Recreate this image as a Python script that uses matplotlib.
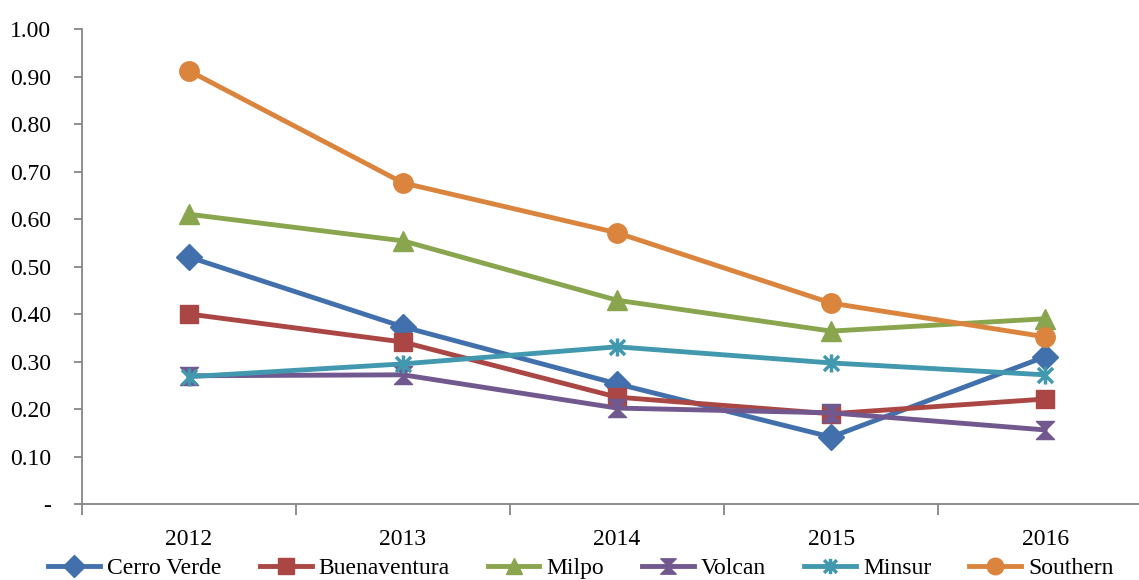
import numpy as np
import matplotlib
matplotlib.use("Agg")
import matplotlib.pyplot as plt
from matplotlib.path import Path

years = ["2012", "2013", "2014", "2015", "2016"]
cerro_verde = [0.52, 0.373, 0.253, 0.141, 0.31]
buenaventura = [0.40, 0.341, 0.225, 0.19, 0.221]
milpo = [0.61, 0.554, 0.429, 0.364, 0.39]
volcan = [0.27, 0.272, 0.202, 0.192, 0.156]
minsur = [0.268, 0.295, 0.331, 0.297, 0.272]
southern = [0.912, 0.676, 0.571, 0.423, 0.352]

plt.rcParams['font.family'] = ['Liberation Serif', 'DejaVu Serif']

# custom markers like the spreadsheet ones
hourglass = Path([(-1, 1), (1, 1), (0, 0), (1, -1), (-1, -1), (0, 0), (-1, 1)],
                 [Path.MOVETO, Path.LINETO, Path.LINETO, Path.LINETO,
                  Path.LINETO, Path.LINETO, Path.CLOSEPOLY])
star = Path([(-1, -1), (1, 1), (-1, 1), (1, -1), (0, -1.2), (0, 1.2)],
            [Path.MOVETO, Path.LINETO, Path.MOVETO, Path.LINETO,
             Path.MOVETO, Path.LINETO])

series = [
    ("Cerro Verde", cerro_verde, "#4170AC", "D", 13),
    ("Buenaventura", buenaventura, "#AA4643", "s", 13.5),
    ("Milpo", milpo, "#89A54E", "^", 14),
    ("Volcan", volcan, "#71588F", hourglass, 13),
    ("Minsur", minsur, "#4198AF", star, 13),
    ("Southern", southern, "#DB843D", "o", 14),
]

fig = plt.figure(figsize=(11.39, 5.8), dpi=100)
ax = fig.add_axes([0.072, 0.131, 0.9395, 0.819])

x = np.arange(len(years))
for name, vals, col, mk, ms in series:
    if mk is star:
        ax.plot(x, vals, color=col, lw=3.5, marker=mk, ms=ms,
                mfc="none", mec=col, mew=2.5, label=name)
    else:
        ax.plot(x, vals, color=col, lw=3.5, marker=mk, ms=ms,
                mfc=col, mec=col, label=name)

ax.set_xlim(-0.5, 4.5)
ax.set_ylim(0, 1.0)

for s in ["top", "right"]:
    ax.spines[s].set_visible(False)
for s in ["left", "bottom"]:
    ax.spines[s].set_color("#868686")
    ax.spines[s].set_linewidth(1.3)

yt = np.round(np.arange(0, 1.01, 0.1), 2)
ax.set_yticks(yt)
ax.set_yticklabels(["-"] + [f"{v:.2f}" for v in yt[1:]], fontsize=17)
ax.tick_params(axis="y", length=6, width=1.3, color="#868686", pad=16)

ax.set_xticks(np.arange(-0.5, 5, 1.0))
ax.set_xticklabels([])
ax.set_xticks(x, minor=True)
ax.set_xticklabels(years, minor=True, fontsize=17)
ax.tick_params(axis="x", which="major", length=8, width=1.3, color="#868686")
ax.tick_params(axis="x", which="minor", length=0, pad=18)

fig.legend(loc="center", bbox_to_anchor=(0.51, 0.02), ncol=6, frameon=False,
           fontsize=17, handlelength=2.2, columnspacing=1.6,
           handletextpad=0.3, borderaxespad=0, markerscale=0.85)

fig.savefig("out.png", dpi=100)
